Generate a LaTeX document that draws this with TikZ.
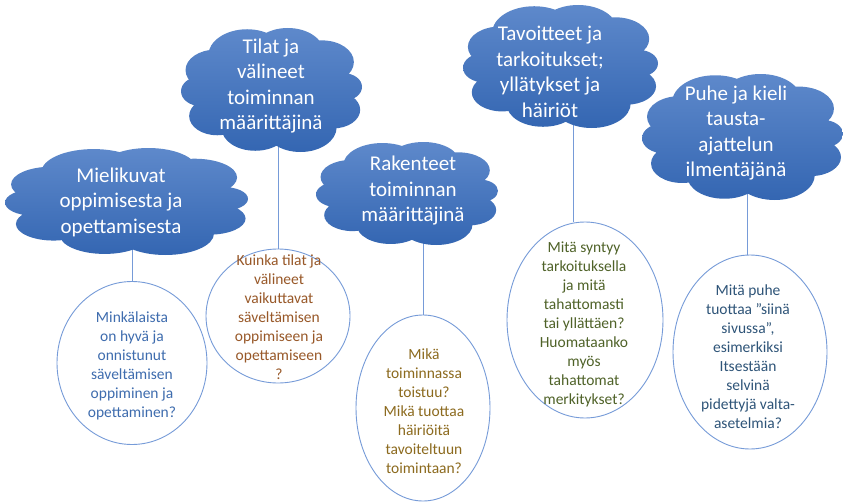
\documentclass[tikz,border=0pt]{standalone}
\usepackage{fontspec}
\setmainfont{Carlito}
\usetikzlibrary{shapes.geometric}
\pgfdeclarelayer{bg}
\pgfsetlayers{bg,main}

\definecolor{cloudtop}{RGB}{94,137,203}
\definecolor{cloudbot}{RGB}{52,102,178}
\definecolor{ringblue}{RGB}{118,155,216}
\definecolor{txtblue}{RGB}{62,108,174}
\definecolor{txtbrown}{RGB}{152,88,40}
\definecolor{txtgold}{RGB}{140,106,30}
\definecolor{txtolive}{RGB}{79,98,40}
\definecolor{txtslate}{RGB}{46,84,120}

% outline of a cloud in a unit box (-1..1 in both directions), built from overlapping puffs
\newcommand\puffpath{%
  (0,-0.02) ellipse [x radius=0.82, y radius=0.72]
  (-0.78,-0.02) ellipse [x radius=0.22, y radius=0.24]
  (-0.62,0.32) ellipse [x radius=0.33, y radius=0.33]
  (-0.27,0.55) ellipse [x radius=0.43, y radius=0.43]
  (0.18,0.60) ellipse [x radius=0.40, y radius=0.40]
  (0.56,0.45) ellipse [x radius=0.35, y radius=0.35]
  (0.80,0.05) ellipse [x radius=0.20, y radius=0.22]
  (0.68,-0.32) ellipse [x radius=0.30, y radius=0.30]
  (0.32,-0.60) ellipse [x radius=0.40, y radius=0.40]
  (-0.18,-0.62) ellipse [x radius=0.37, y radius=0.36]
  (-0.60,-0.42) ellipse [x radius=0.31, y radius=0.31]}

% #1 name, #2 x, #3 y, #4 half width, #5 half height
\newcommand\puffcloud[5]{%
  \node[cloudframe, minimum width=2*#4pt, minimum height=2*#5pt] (#1) at (#2,#3) {};
  \shade[top color=cloudtop, bottom color=cloudbot, shift={(#1.center)}, x=#4pt, y=#5pt]
    \puffpath;}

\begin{document}
\begin{tikzpicture}[x=1pt,y=-1pt,
  cloudframe/.style={rectangle, inner sep=0pt, draw=none},
  cloudtext/.style={text=white, align=center, inner sep=0pt,
    font=\fontsize{21}{25.5}\selectfont},
  ring/.style={ellipse, draw=ringblue, line width=0.9pt, inner sep=0pt, fill=white},
  ringtext/.style={align=center, inner sep=0pt, font=\fontsize{15.5}{19}\selectfont},
  link/.style={draw=ringblue, line width=0.9pt}]

\useasboundingbox (0,0) rectangle (843,503);

% clouds with the five themes
\puffcloud{c1}{126.5}{201.5}{121.5}{53.5}
\puffcloud{c2}{271.5}{90}{90.5}{62}
\puffcloud{c3}{407}{193.5}{91}{51.5}
\puffcloud{c4}{560.5}{66.5}{97.5}{61.5}
\puffcloud{c5}{742.5}{137}{100.5}{63}

\node[cloudtext] (t1) at (121,202) {Mielikuvat\\oppimisesta ja\\opettamisesta};
\node[cloudtext] (t2) at (271,86) {Tilat ja\\välineet\\toiminnan\\määrittäjinä};
\node[cloudtext] (t3) at (413,191) {Rakenteet\\toiminnan\\määrittäjinä};
\node[cloudtext] (t4) at (550,72) {Tavoitteet ja\\tarkoitukset;\\yllätykset ja\\häiriöt};
\node[cloudtext] (t5) at (736,133) {Puhe ja kieli\\tausta-\\ajattelun\\ilmentäjänä};

% question ellipses
\node[ring, minimum width=150pt, minimum height=163pt] (e1) at (132,363) {};
\node[ring, minimum width=144pt, minimum height=134pt] (e2) at (278,316) {};
\node[ring, minimum width=134pt, minimum height=186pt] (e3) at (423,408) {};
\node[ring, minimum width=156pt, minimum height=196pt] (e4) at (585,320) {};
\node[ring, minimum width=154pt, minimum height=194pt] (e5) at (750,352) {};

\node[ringtext, text=txtblue] (q1) at (132,366)
  {Minkälaista\\on hyvä ja\\onnistunut\\säveltämisen\\oppiminen ja\\opettaminen?};
\node[ringtext, text=txtbrown] (q2) at (279,317)
  {Kuinka tilat ja\\välineet\\vaikuttavat\\säveltämisen\\oppimiseen ja\\opettamiseen\\?};
\node[ringtext, text=txtgold] (q3) at (424,411)
  {Mikä\\toiminnassa\\toistuu?\\Mikä tuottaa\\häiriöitä\\tavoiteltuun\\toimintaan?};
\node[ringtext, text=txtolive] (q4) at (584,324)
  {Mitä syntyy\\tarkoituksella\\ja mitä\\tahattomasti\\tai yllättäen?\\Huomataanko\\myös\\tahattomat\\merkitykset?};
\node[ringtext, text=txtslate] (q5) at (748,357)
  {Mitä puhe\\tuottaa ”siinä\\sivussa”,\\esimerkiksi\\Itsestään\\selvinä\\pidettyjä valta-\\asetelmia?};

% white page and the connectors from each cloud down to its ellipse
\begin{pgfonlayer}{bg}
\fill[white] (0,0) rectangle (843,503);
\draw[link] (e1.north) -- (e1.north |- c1.center);
\draw[link] (e2.north) -- (e2.north |- c2.center);
\draw[link] (e3.north) -- (e3.north |- c3.center);
\draw[link] ([xshift=-12pt]e4.north) -- ([xshift=-12pt]e4.north |- c4.center);
\draw[link] ([xshift=-3pt]e5.north) -- ([xshift=-3pt]e5.north |- c5.center);
\end{pgfonlayer}
\end{tikzpicture}
\end{document}
